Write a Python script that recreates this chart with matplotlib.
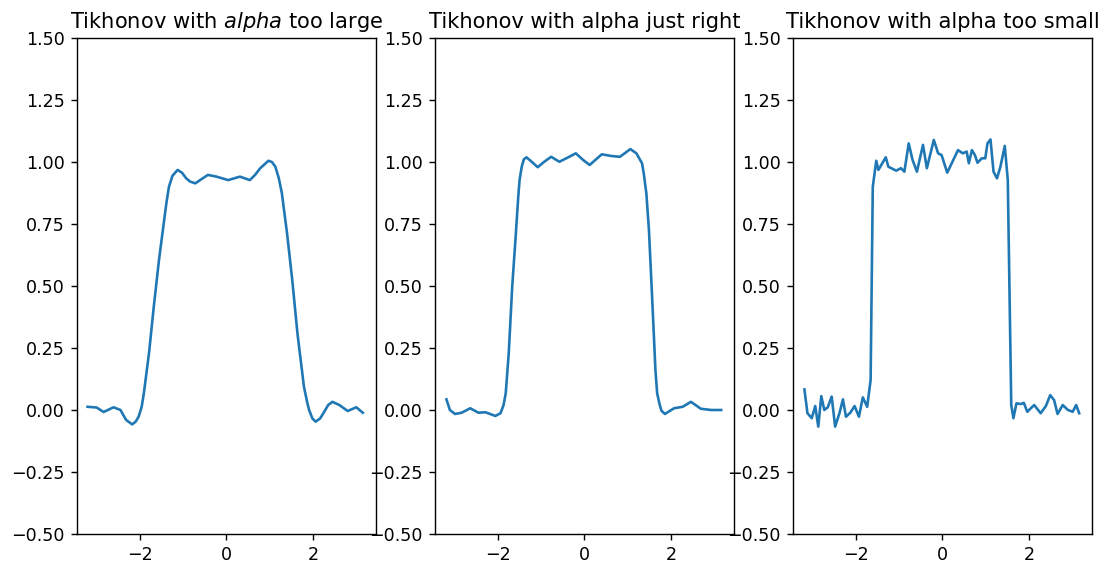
import numpy as np
import matplotlib
matplotlib.use("Agg")
import matplotlib.pyplot as plt

# reconstructions sampled along [-pi, pi]
x_large = [-3.21, -3.0, -2.84, -2.61, -2.45, -2.32, -2.18, -2.10, -2.03, -1.96,
           -1.91, -1.79, -1.68, -1.56, -1.44, -1.39, -1.33, -1.25, -1.13, -1.03,
           -0.93, -0.84, -0.72, -0.585, -0.43, -0.23, 0.04, 0.31, 0.54, 0.66,
           0.78, 0.97, 1.05, 1.13, 1.21, 1.28, 1.40, 1.52, 1.64, 1.79,
           1.87, 1.91, 1.985, 2.06, 2.164, 2.26, 2.35, 2.45, 2.61, 2.80,
           3.0, 3.15]
y_large = [0.013, 0.010, -0.008, 0.011, 0.000, -0.040, -0.058, -0.047, -0.027, 0.013,
           0.067, 0.230, 0.417, 0.605, 0.766, 0.833, 0.900, 0.944, 0.968, 0.957,
           0.934, 0.921, 0.914, 0.930, 0.948, 0.941, 0.927, 0.941, 0.927, 0.948,
           0.975, 1.005, 1.000, 0.981, 0.934, 0.874, 0.712, 0.524, 0.309, 0.094,
           0.027, 0.000, -0.034, -0.047, -0.034, -0.007, 0.020, 0.033, 0.020, -0.004,
           0.011, -0.011]

x_right = [-3.19, -3.11, -2.99, -2.84, -2.64, -2.45, -2.29, -2.06, -1.94, -1.87,
           -1.82, -1.75, -1.67, -1.59, -1.53, -1.50, -1.45, -1.40, -1.34, -1.22,
           -1.08, -0.93, -0.77, -0.58, -0.42, -0.20, -0.03, 0.12, 0.40, 0.63,
           0.82, 1.06, 1.20, 1.33, 1.37, 1.43, 1.49, 1.57, 1.64, 1.68,
           1.74, 1.78, 1.86, 2.07, 2.27, 2.46, 2.69, 2.93, 3.16]
y_right = [0.043, 0.000, -0.016, -0.011, 0.007, -0.011, -0.009, -0.024, -0.013, 0.020,
           0.067, 0.229, 0.497, 0.700, 0.860, 0.927, 0.981, 1.011, 1.019, 1.001,
           0.979, 1.001, 1.021, 1.001, 1.015, 1.035, 1.008, 0.988, 1.031, 1.024,
           1.021, 1.052, 1.035, 0.995, 0.954, 0.874, 0.726, 0.430, 0.161, 0.067,
           0.020, -0.003, -0.016, 0.007, 0.013, 0.033, 0.005, 0.000, 0.000]

x_small = [-3.19, -3.12, -3.02, -2.94, -2.87, -2.80, -2.73, -2.65, -2.56, -2.48,
           -2.38, -2.30, -2.23, -2.13, -2.03, -1.93, -1.84, -1.74, -1.66, -1.61,
           -1.53, -1.48, -1.39, -1.31, -1.25, -1.07, -0.96, -0.88, -0.78, -0.69,
           -0.59, -0.45, -0.36, -0.20, -0.10, -0.02, 0.11, 0.25, 0.36, 0.47,
           0.56, 0.61, 0.68, 0.75, 0.81, 0.91, 0.99, 1.04, 1.11, 1.18,
           1.26, 1.34, 1.44, 1.51, 1.59, 1.64, 1.71, 1.81, 1.88, 1.96,
           2.12, 2.27, 2.39, 2.49, 2.58, 2.66, 2.78, 2.90, 3.01, 3.09, 3.16]
y_small = [0.083, -0.013, -0.033, 0.016, -0.067, 0.056, 0.000, 0.011, 0.054, -0.067,
           -0.013, 0.043, -0.027, -0.011, 0.016, -0.027, 0.051, 0.013, 0.121, 0.900,
           1.005, 0.968, 0.995, 1.019, 0.981, 0.965, 0.975, 0.961, 1.075, 1.008,
           0.961, 1.069, 0.975, 1.089, 1.035, 1.028, 0.957, 1.008, 1.048, 1.035,
           1.042, 0.995, 1.048, 1.028, 0.997, 1.015, 1.015, 1.075, 1.091, 0.961,
           0.934, 0.981, 1.065, 0.927, 0.020, -0.033, 0.027, 0.024, 0.029, -0.007,
           0.020, -0.013, 0.016, 0.060, 0.040, -0.016, 0.020, 0.000, -0.007, 0.020, -0.013]

titles = ["Tikhonov with $alpha$ too large",
          "Tikhonov with alpha just right",
          "Tikhonov with alpha too small"]

fig, axes = plt.subplots(1, 3, figsize=(1112 / 126, 563 / 126), dpi=126)
fig.subplots_adjust(left=0.0692, right=0.982, bottom=0.0515, top=0.9325, wspace=0.197)

for ax, xs, ys, title in zip(axes, [x_large, x_right, x_small],
                             [y_large, y_right, y_small], titles):
    ax.plot(xs, ys)
    ax.set_xlim(-np.pi * 1.1, np.pi * 1.1)
    ax.set_ylim(-0.5, 1.5)
    ax.set_title(title)

fig.savefig("out.png", dpi=126)
